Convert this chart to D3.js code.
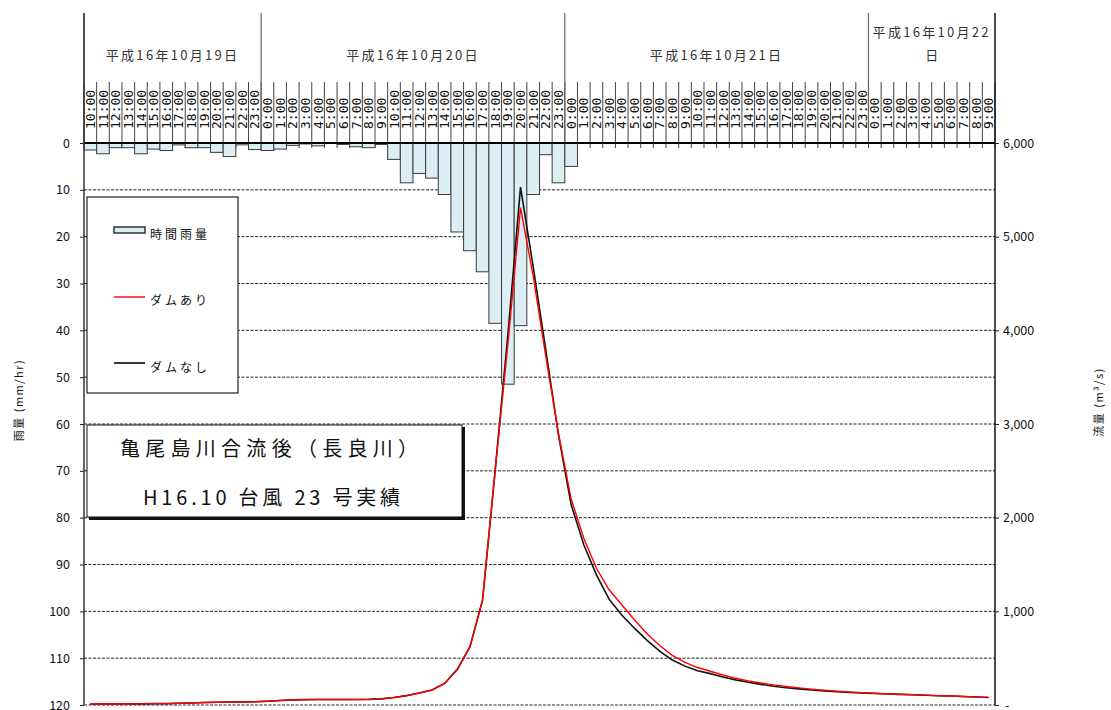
<!DOCTYPE html>
<html><head><meta charset="utf-8">
<script src="https://cdn.jsdelivr.net/npm/d3@7"></script>
<style>
body{margin:0;background:#fff}
svg{display:block}
text{font-family:"Noto Sans CJK JP","Noto Sans",sans-serif;fill:#111}
</style>
</head><body>
<svg id="c" width="1111" height="710"></svg>
<script>
// ---------- data ----------
const hourLabels = [
 "10:00","11:00","12:00","13:00","14:00","15:00","16:00","17:00","18:00","19:00","20:00","21:00","22:00","23:00",
 "0:00","1:00","2:00","3:00","4:00","5:00","6:00","7:00","8:00","9:00","10:00","11:00","12:00","13:00","14:00","15:00","16:00","17:00","18:00","19:00","20:00","21:00","22:00","23:00",
 "0:00","1:00","2:00","3:00","4:00","5:00","6:00","7:00","8:00","9:00","10:00","11:00","12:00","13:00","14:00","15:00","16:00","17:00","18:00","19:00","20:00","21:00","22:00","23:00",
 "0:00","1:00","2:00","3:00","4:00","5:00","6:00","7:00","8:00","9:00"
];
const dayLabels = ["平成16年10月19日","平成16年10月20日","平成16年10月21日","平成16年10月22日"];
const daySlotCounts = [14, 24, 24, 10];

// hourly rainfall (mm/hr)
const rainfall = [
 1.5,2.3,1,1,2.3,1.3,1.6,0.4,1,1,2,2.9,0.4,1.4,
 1.6,1.3,0.5,0.2,0.6,0,0.3,0.8,1,0.3,3.5,8.5,6.5,7.5,11,19,23,27.5,38.5,51.5,39,11,2.5,8.5,
 5,0,0,0,0,0,0,0,0,0,0,0,0,0,0,0,0,0,0,0,0,0,0,0,
 0,0,0,0,0,0,0,0,0,0
];
// discharge with dam (m3/s)
const flowWithDam = [
 10,10,10,10,12,15,15,18,22,26,30,32,33,35,
 40,48,55,57,58,58,58,58,60,65,80,100,128,160,230,380,620,1120,2510,3850,5310,4580,3720,2900,
 2200,1780,1460,1230,1070,910,760,635,530,455,400,360,320,285,258,235,215,198,183,170,158,148,139,132,
 125,120,115,110,105,100,96,91,86,81
];
// discharge without dam (m3/s)
const flowWithoutDam = [
 10,10,10,10,12,15,15,18,22,26,30,32,33,35,
 40,48,55,57,58,58,58,58,60,65,80,100,128,160,230,380,620,1120,2510,3950,5530,4680,3790,2880,
 2140,1710,1390,1130,960,820,690,575,480,415,365,335,300,268,243,220,200,185,172,160,150,141,133,128,
 122,117,113,109,104,99,96,91,85,80
];
const rainTicks = [0,10,20,30,40,50,60,70,80,90,100,110,120];
const flowTicks = [0,1000,2000,3000,4000,5000,6000];
const seriesNames = ["時間雨量","ダムあり","ダムなし"];
const titleLines = ["亀尾島川合流後（長良川）","H16.10 台風 23 号実績"];

// ---------- layout ----------
const L = 84, R = 995, T = 143, B = 705;
const svg = d3.select("#c");
const x = d3.scaleBand().domain(d3.range(hourLabels.length)).range([L, R]).padding(0);
const bw = x.bandwidth();
const yR = d3.scaleLinear().domain([0,120]).range([T, B]);
const yQ = d3.scaleLinear().domain([0,6000]).range([B, T]);

// horizontal dashed gridlines
svg.append("g").selectAll("line").data(rainTicks.filter(d => d > 0)).join("line")
  .attr("x1", L).attr("x2", R).attr("y1", d => yR(d)).attr("y2", d => yR(d))
  .attr("stroke", "#222").attr("stroke-width", 1).attr("stroke-dasharray", "3,1.5");

// hour grid lines in header
svg.append("g").selectAll("line").data(d3.range(hourLabels.length + 1)).join("line")
  .attr("x1", i => i < hourLabels.length ? x(i) : R).attr("x2", i => i < hourLabels.length ? x(i) : R)
  .attr("y1", 82).attr("y2", T + 5)
  .attr("stroke", "#444").attr("stroke-width", 1);

// day boundaries
const dayStarts = [];
let acc = 0;
daySlotCounts.forEach(c => { dayStarts.push(acc); acc += c; });
svg.append("g").selectAll("line").data(dayStarts).join("line")
  .attr("x1", i => x(i)).attr("x2", i => x(i)).attr("y1", 13).attr("y2", T)
  .attr("stroke", "#666").attr("stroke-width", 1.2);

// day labels
const dayG = svg.append("g");
dayLabels.forEach((lab, k) => {
  const x0 = x(dayStarts[k]);
  const w = daySlotCounts[k] * bw;
  const cx = x0 + w / 2;
  const t = dayG.append("text").attr("x", cx).attr("y", 60).attr("text-anchor", "middle")
    .style("font-size", "13px").style("letter-spacing", "2.3px").style("fill", "#333").text(lab);
  if (t.node().getComputedTextLength() > w - 4) {
    t.text(lab.slice(0, -1)).attr("y", 37);
    dayG.append("text").attr("x", cx).attr("y", 60).attr("text-anchor", "middle")
      .style("font-size", "13px").style("fill", "#333").text(lab.slice(-1));
  }
});

// hour labels (rotated)
svg.append("g").selectAll("text").data(hourLabels).join("text")
  .attr("transform", (d, i) => `translate(${x(i) + bw / 2},129) rotate(-90)`)
  .attr("dy", "0.35em")
  .style("font-family", "'DejaVu Sans Mono',monospace").style("font-size", "13px").style("fill", "#111")
  .text(d => d);

// rainfall bars
svg.append("g").selectAll("rect").data(rainfall.map((v, i) => ({v, i})).filter(d => d.v > 0)).join("rect")
  .attr("x", d => x(d.i)).attr("y", yR(0)).attr("width", bw).attr("height", d => yR(d.v) - yR(0))
  .attr("fill", "#daeef3").attr("stroke", "#3a3a3a").attr("stroke-width", 1);

// zero line
svg.append("line").attr("x1", L).attr("x2", R).attr("y1", yR(0)).attr("y2", yR(0))
  .attr("stroke", "#000").attr("stroke-width", 2.2);

// axes frame lines
svg.append("line").attr("x1", L).attr("x2", L).attr("y1", 13).attr("y2", B).attr("stroke", "#333").attr("stroke-width", 1.5);
svg.append("line").attr("x1", R).attr("x2", R).attr("y1", 13).attr("y2", B).attr("stroke", "#111").attr("stroke-width", 1.5);

// left axis
const axL = svg.append("g").attr("transform", `translate(${L},0)`)
  .call(d3.axisLeft(yR).tickValues(rainTicks).tickSize(4).tickPadding(10));
axL.select(".domain").remove();
axL.selectAll("line").attr("stroke", "#222");
axL.selectAll("text").style("font-size", "12.5px").style("fill", "#111")
  .style("font-family", "'Noto Sans CJK JP',sans-serif");

// right axis
const axR = svg.append("g").attr("transform", `translate(${R},0)`)
  .call(d3.axisRight(yQ).tickValues(flowTicks).tickSize(4).tickPadding(4)
    .tickFormat(d => d === 0 ? "-" : d3.format(",")(d)));
axR.select(".domain").remove();
axR.selectAll("line").attr("stroke", "#222");
axR.selectAll("text").style("font-size", "12.5px").style("fill", "#111")
  .style("font-family", "'Noto Sans CJK JP',sans-serif");
axR.selectAll(".tick").filter(d => d === 0).select("text").attr("x", 10);

// axis titles
svg.append("text").attr("transform", `translate(19,400) rotate(-90)`)
  .attr("text-anchor", "middle").attr("dy", "0.35em").style("font-size", "11px").style("letter-spacing", "1.5px").text("雨量 (mm/hr)");
svg.append("text").attr("transform", `translate(1099,402) rotate(-90)`)
  .attr("text-anchor", "middle").attr("dy", "0.35em").style("font-size", "11px").style("letter-spacing", "1.5px").text("流量 (m³/s)");

// discharge lines
const line = d3.line().x((d, i) => x(i) + bw / 2).y(d => yQ(d));
svg.append("path").datum(flowWithoutDam).attr("d", line)
  .attr("fill", "none").attr("stroke", "#111").attr("stroke-width", 1.6);
svg.append("path").datum(flowWithDam).attr("d", line)
  .attr("fill", "none").attr("stroke", "#ff0000").attr("stroke-width", 1.4);

// legend
const lg = svg.append("g");
lg.append("rect").attr("x", 87).attr("y", 197).attr("width", 151).attr("height", 196)
  .attr("fill", "#fff").attr("stroke", "#222").attr("stroke-width", 1.2);
lg.append("rect").attr("x", 114).attr("y", 227).attr("width", 31).attr("height", 6)
  .attr("fill", "#daeef3").attr("stroke", "#333").attr("stroke-width", 1.5);
lg.append("line").attr("x1", 114).attr("x2", 145).attr("y1", 297).attr("y2", 297).attr("stroke", "#ff0000").attr("stroke-width", 1.4);
lg.append("line").attr("x1", 114).attr("x2", 145).attr("y1", 363).attr("y2", 363).attr("stroke", "#222").attr("stroke-width", 1.8);
const legY = [235, 301, 368];
seriesNames.forEach((n, k) => {
  lg.append("text").attr("x", 150).attr("y", legY[k] + 4).style("font-size", "12px")
    .style("letter-spacing", "3px").text(n);
});

// title box
const tb = svg.append("g");
tb.append("rect").attr("x", 89).attr("y", 427).attr("width", 376).attr("height", 93).attr("fill", "#111");
tb.append("rect").attr("x", 87).attr("y", 425).attr("width", 375).attr("height", 92)
  .attr("fill", "#fff").attr("stroke", "#111").attr("stroke-width", 1);
tb.append("text").attr("x", 120).attr("y", 456).attr("textLength", 298).attr("lengthAdjust", "spacing")
  .style("font-size", "20px").style("fill", "#111").text(titleLines[0]);
tb.append("text").attr("x", 143).attr("y", 505).attr("textLength", 257).attr("lengthAdjust", "spacing")
  .style("font-size", "20px").style("fill", "#111").text(titleLines[1]);
</script>
</body></html>
